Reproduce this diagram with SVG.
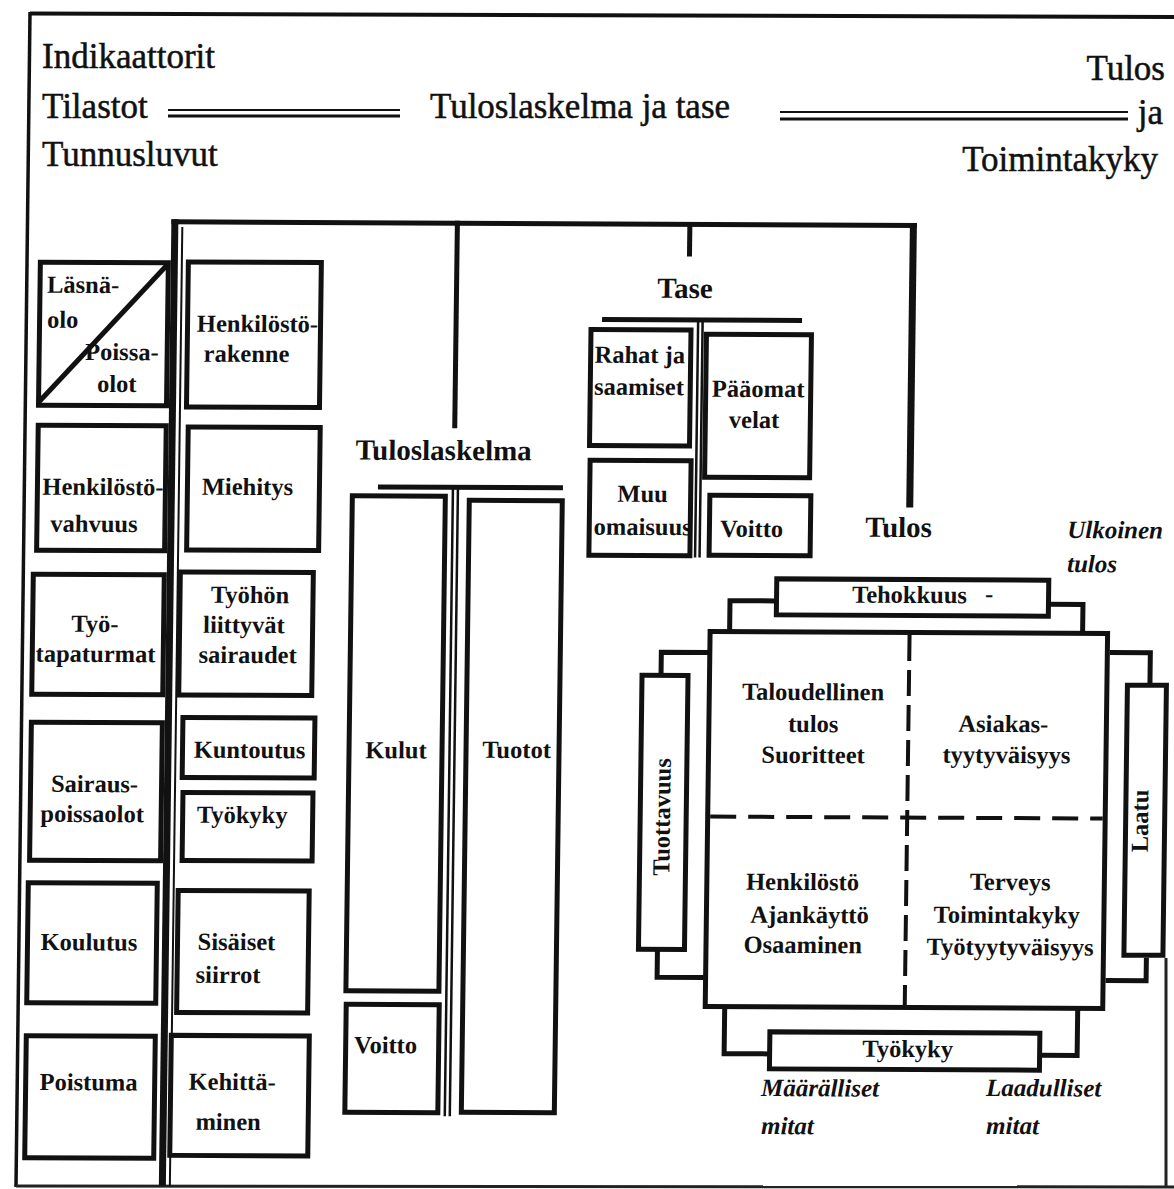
<svg xmlns="http://www.w3.org/2000/svg" width="1174" height="1189" viewBox="0 0 1174 1189">
<style>
  .box { fill: #fff; stroke: #111; stroke-width: 5; }
  .ln { fill: none; stroke: #111; stroke-width: 5; }
  .thin { fill: none; stroke: #111; stroke-width: 2.5; }
  .dash { fill: none; stroke: #111; stroke-width: 4; }
  .h { font-family: "Liberation Serif", "Times New Roman", serif; font-size: 35px; fill: #111; stroke: #111; stroke-width: 0.5; }
  .hb { font-family: "Liberation Serif", "Times New Roman", serif; font-size: 29px; font-weight: bold; fill: #111; text-anchor: middle; }
  .t { font-family: "Liberation Serif", "Times New Roman", serif; font-size: 24.5px; font-weight: bold; fill: #111; text-anchor: middle; }
  .ts { font-family: "Liberation Serif", "Times New Roman", serif; font-size: 24.5px; font-weight: bold; fill: #111; }
  .it { font-family: "Liberation Serif", "Times New Roman", serif; font-size: 25px; font-weight: bold; font-style: italic; fill: #111; }
</style>
<rect width="1174" height="1189" fill="#fff"/>

<!-- outer frame -->
<g id="frame">
  <line x1="30" y1="13.5" x2="1174" y2="17" stroke="#111" stroke-width="4"/>
  <line x1="30" y1="12" x2="16" y2="1187" stroke="#111" stroke-width="3.5"/>
  <line x1="16" y1="1186" x2="1174" y2="1187" stroke="#222" stroke-width="3"/>
  <line x1="1166" y1="958" x2="1166" y2="1187" stroke="#222" stroke-width="3"/>
</g>

<!-- heading row -->
<g id="heading">
  <text class="h" x="42" y="68">Indikaattorit</text>
  <text class="h" x="42" y="118">Tilastot</text>
  <text class="h" x="42" y="166">Tunnusluvut</text>
  <line x1="168" y1="110" x2="400" y2="110" stroke="#111" stroke-width="2"/>
  <line x1="168" y1="116" x2="400" y2="116" stroke="#111" stroke-width="3"/>
  <text class="h" x="430" y="118">Tuloslaskelma ja tase</text>
  <line x1="780" y1="112" x2="1128" y2="112" stroke="#111" stroke-width="2"/>
  <line x1="780" y1="119" x2="1128" y2="119" stroke="#111" stroke-width="3"/>
  <text class="h" x="1165" y="80" text-anchor="end">Tulos</text>
  <text class="h" x="1163" y="124" text-anchor="end">ja</text>
  <text class="h" x="1158" y="171" text-anchor="end">Toimintakyky</text>
</g>

<!-- the printed sheet sits slightly skewed; draw straight and shear once -->
<g transform="matrix(1 0.005 -0.013 1 7.8 -3)">

  <g id="connectors">
    <!-- main bus -->
    <line class="ln" x1="166.5" y1="224" x2="912" y2="224"/>
    <line x1="170" y1="221.5" x2="170" y2="1188" stroke="#111" stroke-width="7"/>
    <line x1="177.5" y1="229" x2="177.5" y2="1188" stroke="#111" stroke-width="2"/>
    <line class="ln" x1="452.5" y1="221.5" x2="452.5" y2="429"/>
    <line class="ln" x1="685" y1="221.5" x2="685" y2="256"/>
    <line x1="908.5" y1="221.5" x2="908.5" y2="506" stroke="#111" stroke-width="7"/>
    <!-- Tuloslaskelma split -->
    <line class="ln" x1="376.5" y1="488" x2="561.5" y2="488" stroke-width="4"/>
    <line class="thin" x1="451.5" y1="488" x2="451.5" y2="1117"/>
    <line class="thin" x1="456.5" y1="488" x2="456.5" y2="1117"/>
    <!-- Tase split -->
    <line class="ln" x1="598.4" y1="319.5" x2="798.4" y2="319.5" stroke-width="4"/>
    <line class="thin" x1="694.5" y1="319.5" x2="694.5" y2="557"/>
    <line class="thin" x1="699" y1="319.5" x2="699" y2="557"/>
    <!-- brackets round the Tulos square -->
    <polyline class="ln" stroke-width="4.5" points="730,631 730,600 776,600"/>
    <polyline class="ln" stroke-width="4.5" points="1049,602 1083,602 1083,631"/>
    <polyline class="ln" stroke-width="4.5" points="710,652 662,652 662,676"/>
    <polyline class="ln" stroke-width="4.5" points="662,948 662,977 710,977"/>
    <polyline class="ln" stroke-width="4.5" points="1110.5,650 1151,650 1151,684"/>
    <polyline class="ln" stroke-width="4.5" points="1151,955 1151,978 1110.5,978"/>
    <polyline class="ln" stroke-width="4.5" points="730,1006 730,1053 775,1053"/>
    <polyline class="ln" stroke-width="4.5" points="1046,1053 1083,1053 1083,1006"/>
  </g>

  <!-- first column -->
  <g id="lasnaolo">
    <rect class="box" x="36" y="265" width="128" height="143"/>
    <line class="ln" x1="37" y1="404" x2="163" y2="267"/>
    <text class="ts" x="43" y="295.5">Läsnä-</text>
    <text class="ts" x="43.5" y="330.5">olo</text>
    <text class="ts" x="82" y="362.5">Poissa-</text>
    <text class="ts" x="94.4" y="394.5">olot</text>
  </g>
  <g id="henkilostovahvuus">
    <rect class="box" x="36" y="428" width="128" height="125"/>
    <text class="t" x="101.6" y="497.5">Henkilöstö-</text>
    <text class="t" x="93" y="534.5">vahvuus</text>
  </g>
  <g id="tyotapaturmat">
    <rect class="box" x="33" y="577" width="131" height="120"/>
    <text class="t" x="95.4" y="634.5">Työ-</text>
    <text class="t" x="96.3" y="664.5">tapaturmat</text>
  </g>
  <g id="sairauspoissaolot">
    <rect class="box" x="33" y="725" width="131" height="138"/>
    <text class="t" x="97" y="794.6">Sairaus-</text>
    <text class="t" x="95" y="824.6">poissaolot</text>
  </g>
  <g id="koulutus">
    <rect class="box" x="32" y="885.5" width="129" height="120"/>
    <text class="t" x="93.5" y="952.9">Koulutus</text>
  </g>
  <g id="poistuma">
    <rect class="box" x="32" y="1038.5" width="129" height="122"/>
    <text class="t" x="94.9" y="1092.9">Poistuma</text>
  </g>

  <!-- second column -->
  <g id="henkilostorakenne">
    <rect class="box" x="184" y="264" width="133" height="145"/>
    <text class="t" x="254" y="333.7">Henkilöstö-</text>
    <text class="t" x="243.4" y="363.7">rakenne</text>
  </g>
  <g id="miehitys">
    <rect class="box" x="186" y="429" width="132" height="123"/>
    <text class="t" x="246" y="496.7">Miehitys</text>
  </g>
  <g id="tyohon-liittyvat-sairaudet">
    <rect class="box" x="180" y="574" width="133" height="123"/>
    <text class="t" x="250" y="604.8">Työhön</text>
    <text class="t" x="244.4" y="634.8">liittyvät</text>
    <text class="t" x="248.4" y="664.8">sairaudet</text>
  </g>
  <g id="kuntoutus">
    <rect class="box" x="184.5" y="719.5" width="132" height="60"/>
    <text class="t" x="251.6" y="759.8">Kuntoutus</text>
  </g>
  <g id="tyokyky-col">
    <rect class="box" x="185.5" y="794.5" width="130" height="68"/>
    <text class="t" x="245" y="824.8">Työkyky</text>
  </g>
  <g id="sisaiset-siirrot">
    <rect class="box" x="182" y="892.5" width="131" height="122"/>
    <text class="t" x="241" y="951.8">Sisäiset</text>
    <text class="t" x="233" y="984.8">siirrot</text>
  </g>
  <g id="kehittaminen">
    <rect class="box" x="177" y="1037.5" width="138" height="120"/>
    <text class="t" x="238.5" y="1091.8">Kehittä-</text>
    <text class="t" x="235" y="1131.8">minen</text>
  </g>

  <!-- income statement -->
  <g id="tuloslaskelma">
    <text class="hb" x="441.7" y="460.8">Tuloslaskelma</text>
  </g>
  <g id="kulut">
    <rect class="box" x="351" y="497" width="93" height="495"/>
    <text class="t" x="398" y="759.3">Kulut</text>
  </g>
  <g id="voitto-tl">
    <rect class="box" x="351.5" y="1005.5" width="93" height="108"/>
    <text class="t" x="391.4" y="1054.3">Voitto</text>
  </g>
  <g id="tuotot">
    <rect class="box" x="468" y="501" width="93" height="612"/>
    <text class="t" x="518.6" y="758.4">Tuotot</text>
  </g>

  <!-- balance sheet -->
  <g id="tase">
    <text class="hb" x="681" y="297.6">Tase</text>
  </g>
  <g id="rahat">
    <rect class="box" x="587.5" y="329.5" width="100" height="116"/>
    <text class="t" x="636.7" y="362.8">Rahat ja</text>
    <text class="t" x="636.3" y="394.8">saamiset</text>
  </g>
  <g id="muu-omaisuus">
    <rect class="box" x="588.3" y="460.3" width="101" height="95"/>
    <text class="t" x="641.3" y="501.8">Muu</text>
    <text class="t" x="641.7" y="534.8">omaisuus</text>
  </g>
  <g id="paaomat">
    <rect class="box" x="703" y="333.7" width="105" height="143"/>
    <text class="t" x="755.4" y="396.2">Pääomat</text>
    <text class="t" x="751.8" y="427.2">velat</text>
  </g>
  <g id="voitto-tase">
    <rect class="box" x="708.5" y="494.7" width="101" height="60"/>
    <text class="t" x="750.7" y="536.2">Voitto</text>
  </g>

  <!-- result and capability -->
  <g id="tulos">
    <text class="hb" x="897.7" y="535.5">Tulos</text>
    <text class="it" x="1066.3" y="535.7">Ulkoinen</text>
    <text class="it" x="1066.6" y="569.7">tulos</text>
  </g>
  <g id="tulos-square">
    <rect class="box" x="710.5" y="631" width="397.5" height="375"/>
    <line class="dash" x1="910" y1="633.5" x2="910" y2="1003.5" stroke-dasharray="26 9"/>
    <line class="dash" x1="713" y1="816" x2="1105.5" y2="816" stroke-dasharray="26 12"/>
    <text class="t" x="814.3" y="699">Taloudellinen</text>
    <text class="t" x="814.8" y="731">tulos</text>
    <text class="t" x="815.2" y="762">Suoritteet</text>
    <text class="t" x="1005" y="730">Asiakas-</text>
    <text class="t" x="1008.5" y="761">tyytyväisyys</text>
    <text class="t" x="806.3" y="889">Henkilöstö</text>
    <text class="t" x="813.7" y="922">Ajankäyttö</text>
    <text class="t" x="807.2" y="952">Osaaminen</text>
    <text class="t" x="1013.8" y="888">Terveys</text>
    <text class="t" x="1010.8" y="921">Toimintakyky</text>
    <text class="t" x="1014.6" y="953">Työtyytyväisyys</text>
  </g>
  <g id="tehokkuus">
    <rect class="box" x="776.5" y="578" width="272" height="36"/>
    <text class="t" x="909.5" y="601.4">Tehokkuus</text>
    <text class="t" x="989" y="600">-</text>
  </g>
  <g id="tuottavuus">
    <rect class="box" x="643" y="675" width="46" height="274"/>
    <text class="t" transform="translate(664.8 816.7) rotate(-90)" x="0" y="8">Tuottavuus</text>
  </g>
  <g id="laatu">
    <rect class="box" x="1128.5" y="682.5" width="39" height="270"/>
    <text class="t" transform="translate(1142.9 818.2) rotate(-90)" x="0" y="8">Laatu</text>
  </g>
  <g id="tyokyky">
    <rect class="box" x="775.5" y="1031" width="270" height="37"/>
    <text class="t" x="913.5" y="1055.5">Työkyky</text>
  </g>
  <g id="mitat">
    <text class="it" x="767.4" y="1095.2">Määrälliset</text>
    <text class="it" x="767.9" y="1133.2">mitat</text>
    <text class="it" x="992.4" y="1094">Laadulliset</text>
    <text class="it" x="993" y="1132">mitat</text>
  </g>
</g>
</svg>
